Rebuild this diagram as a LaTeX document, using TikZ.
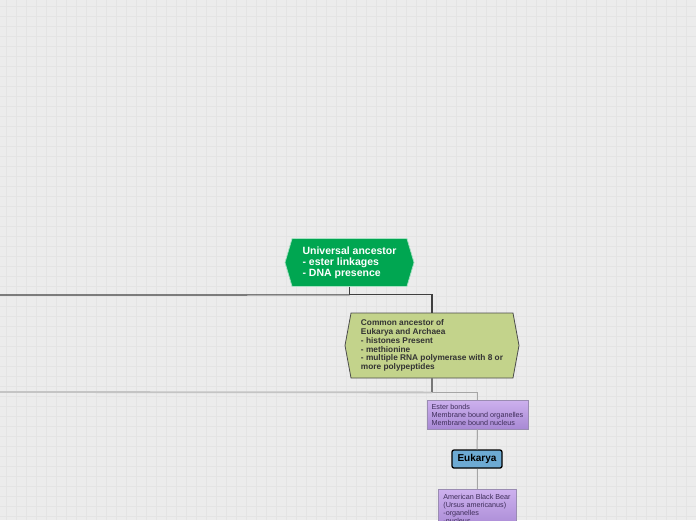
\documentclass[tikz,border=0pt]{standalone}
\usepackage{fontspec}
\setmainfont{Liberation Sans}
\usetikzlibrary{shapes.symbols}

\definecolor{bgpaper}{HTML}{ECECEC}
\definecolor{gridgray}{HTML}{E4E4E4}
\definecolor{ancestorgreen}{HTML}{00A651}
\definecolor{commonolive}{HTML}{C3D38B}
\definecolor{purpletop}{HTML}{CDB1EE}
\definecolor{purplebot}{HTML}{A889D4}
\definecolor{purpleedge}{HTML}{9A8CB2}
\definecolor{purpletext}{HTML}{3D2D58}
\definecolor{eukblue}{HTML}{6DAAD3}
\definecolor{linkdark}{HTML}{404040}
\definecolor{linkmid}{HTML}{777777}
\definecolor{linklight}{HTML}{A6A6A6}
\definecolor{linkfaint}{HTML}{C4C4C4}

\begin{document}
\begin{tikzpicture}[
    x=1pt, y=-1pt,
    gridline/.style={draw=gridgray, line width=0.7pt},
    hexbox/.style={signal, signal to=west and east, inner sep=0pt, align=left},
    rootnode/.style={hexbox, fill=ancestorgreen, draw=ancestorgreen!35!white, line width=0.7pt, minimum width=129pt, minimum height=48pt, signal pointer angle=147, text=white, font=\fontsize{10.5}{11}\selectfont\bfseries},
    cladenode/.style={hexbox, fill=commonolive, draw=black!70, line width=0.8pt, minimum width=174pt, minimum height=65pt, signal pointer angle=159, text=black!80, font=\fontsize{8.3}{8.7}\selectfont\bfseries},
    traitbox/.style={rectangle, top color=purpletop, bottom color=purplebot, draw=purpleedge, line width=0.6pt, align=left, text=purpletext, font=\fontsize{7.2}{8}\selectfont},
    domainbox/.style={rectangle, rounded corners=2pt, fill=eukblue, draw=black, line width=1.3pt, minimum width=50pt, minimum height=18pt, font=\fontsize{10}{11}\selectfont\bfseries},
    darklink/.style={draw=linkdark, line width=1.2pt},
    midlink/.style={draw=linkmid, line width=1.1pt},
    lightlink/.style={draw=linklight, line width=1pt},
    fadedlink/.style={draw=linkfaint, line width=1.8pt}
]

    % page and grid
    \useasboundingbox (0,0) rectangle (696,520);
    \clip (0,0) rectangle (696,520);
    \fill[bgpaper] (0,0) rectangle (696,520);
    \foreach \gx in {6,16,...,696} \draw[gridline] (\gx,0) -- (\gx,520);
    \foreach \gy in {6,16,...,516} \draw[gridline] (0,\gy) -- (696,\gy);

    % 1. Universal ancestor
    \node[rootnode] (root) at (349.5,262.5) {Universal ancestor\\- ester linkages\\- DNA presence};

    % 2. Common ancestor of Eukarya and Archaea
    \node[cladenode] (common) at (432,345.5) {Common ancestor of\\Eukarya and Archaea\\- histones Present\\- methionine\\- multiple RNA polymerase with 8 or\\more polypeptides};

    % 3. Eukarya branch
    \node[traitbox, minimum width=101pt, minimum height=29pt] (ester) at (477.5,414.5) {Ester bonds\\Membrane bound organelles\\Membrane bound nucleus};
    \node[domainbox] (euk) at (477,459) {Eukarya};
    \node[traitbox, anchor=north, minimum width=78pt, minimum height=40pt, inner xsep=5pt, inner ysep=3pt] (bear) at (477,489) {American Black Bear\\(Ursus americanus)\\-organelles\\-nucleus};

    % branches leaving the page on the left
    \coordinate (offleftA) at (-5,295);
    \coordinate (offleftB) at (-5,392);

    % connectors
    \draw[darklink] (root.south) -- ++(0,8) coordinate (rootfork) -| (common.north);
    \draw[darklink] (rootfork) -- (offleftA);
    \draw[fadedlink] (common.south) ++(0,14) coordinate (commonfork) -- (offleftB);
    \draw[midlink] (common.south) -- (commonfork);
    \draw[lightlink] (commonfork) -| (ester.north);
    \draw[lightlink] (ester.south) -- (euk.north);
    \draw[lightlink] (euk.south) -- (bear.north);

\end{tikzpicture}
\end{document}
